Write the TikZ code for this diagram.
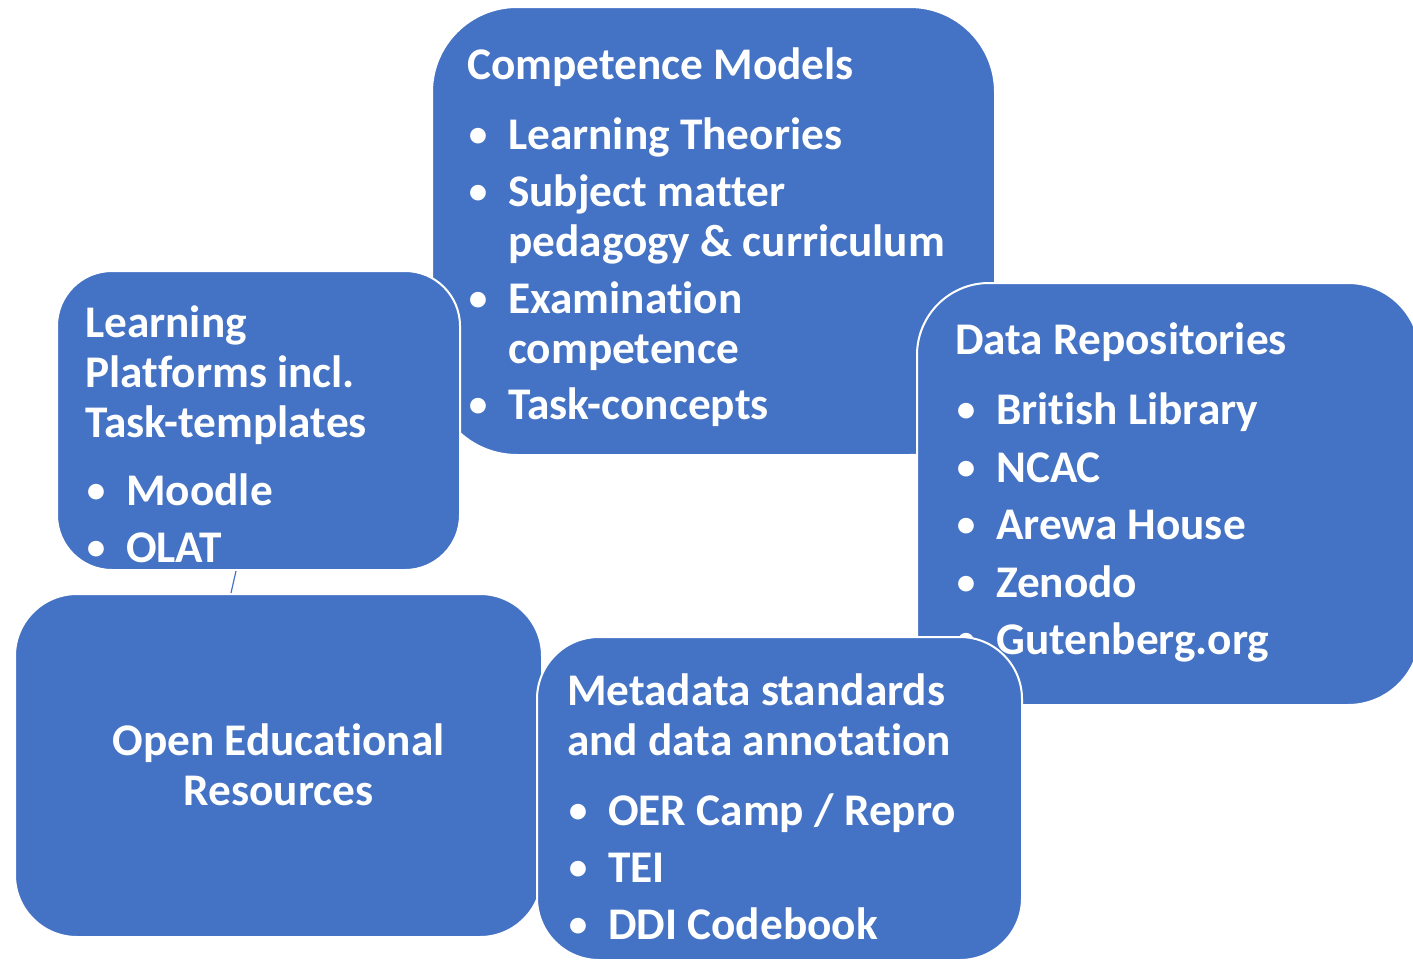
\documentclass[tikz,border=0pt]{standalone}
\usepackage{fontspec}
\setmainfont{Carlito}[Ligatures=NoCommon]
\definecolor{boxblue}{HTML}{4472C4}
\newcommand{\bul}{\makebox[22pt]{\raisebox{2.5pt}{\fontsize{37}{50}\selectfont •}}\hspace{19pt}}
\newcommand{\hang}{\hspace{41pt}}
\tikzset{
  box/.style={rectangle, fill=boxblue, draw=white, line width=2pt, rounded corners=#1, inner sep=0pt},
  box/.default=60pt,
  txt/.style={text=white, font=\bfseries\fontsize{45.3}{50}\selectfont, inner sep=0pt, anchor=base west},
  link/.style={draw=boxblue, line width=1.2pt}
}
\begin{document}
\begin{tikzpicture}[x=1pt, y=-1pt]
    \useasboundingbox (0,0) rectangle (1413,961);
    % competence models
    \node[box=85pt, minimum width=563pt, minimum height=448pt] (comp) at (713.5,231) {};
    \node[txt] (comptxt) at (467,79) {\begin{tabular}[t]{@{}l@{}}
        Competence Models\\[20pt]
        \bul Learning Theories\\[7pt]
        \bul Subject matter\\
        \hang pedagogy \& curriculum\\[7pt]
        \bul Examination\\
        \hang competence\\[6pt]
        \bul Task-concepts
      \end{tabular}};
    % learning platforms
    \node[box=55pt, minimum width=403pt, minimum height=299pt] (learn) at (258.5,420.5) {};
    \node[txt] (learntxt) at (85,337) {\begin{tabular}[t]{@{}l@{}}
        Learning\\
        Platforms incl.\\
        Task-templates\\[18pt]
        \bul Moodle\\[7pt]
        \bul OLAT
      \end{tabular}};
    % data repositories
    \node[box=72pt, minimum width=503pt, minimum height=422pt] (data) at (1168.5,494) {};
    \node[txt] (datatxt) at (955,354) {\begin{tabular}[t]{@{}l@{}}
        Data Repositories\\[20pt]
        \bul British Library\\[8pt]
        \bul NCAC\\[7pt]
        \bul Arewa House\\[8pt]
        \bul Zenodo\\[7pt]
        \bul Gutenberg.org
      \end{tabular}};
    % open educational resources
    \node[box=62pt, minimum width=527pt, minimum height=343pt] (oer) at (278.5,765.5) {};
    \node[txt, anchor=base] (oertxt) at (278.5,755) {\begin{tabular}[t]{@{}c@{}}
        Open Educational\\
        Resources
      \end{tabular}};
    \draw[link] ([xshift=-22.5pt]learn.south) -- ([xshift=-47.5pt]oer.north);
    % metadata
    \node[box=62pt, minimum width=485pt, minimum height=323pt] (meta) at (779.5,798.5) {};
    \node[txt] (metatxt) at (567,705) {\begin{tabular}[t]{@{}l@{}}
        Metadata standards\\
        and data annotation\\[20pt]
        \bul OER Camp / Repro\\[7pt]
        \bul TEI\\[7pt]
        \bul DDI Codebook
      \end{tabular}};
\end{tikzpicture}
\end{document}
